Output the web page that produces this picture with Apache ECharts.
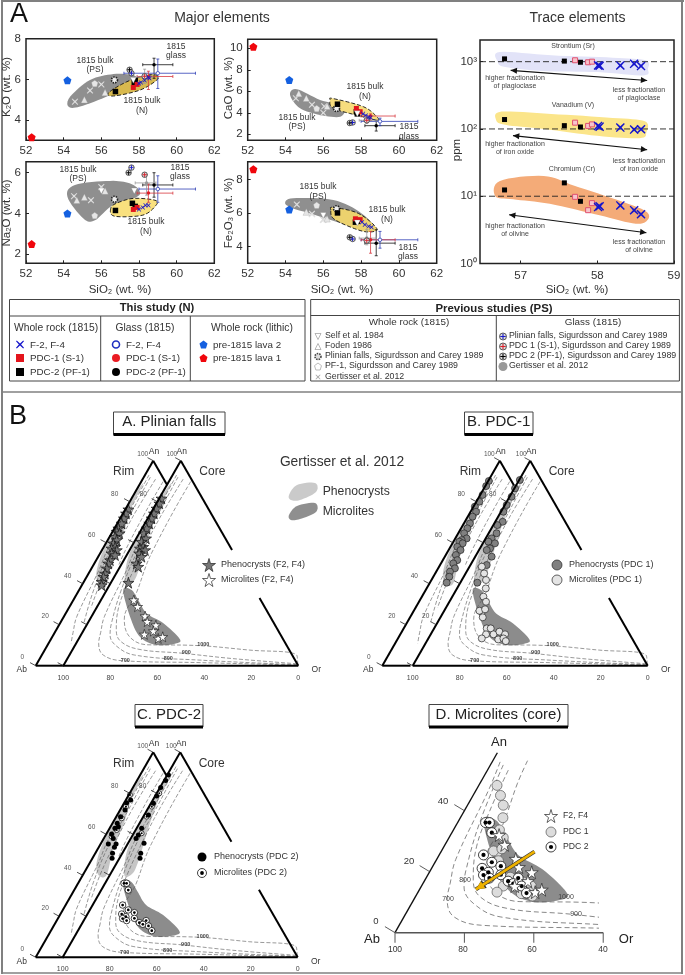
<!DOCTYPE html>
<html>
<head>
<meta charset="utf-8">
<style>
html, body { margin: 0; padding: 0; background: #fff; }
#chart { width: 685px; height: 975px; }
</style>
</head>
<body>
<div id="chart"></div>
<script src="https://cdn.jsdelivr.net/npm/echarts@6/dist/echarts.min.js"></script>
<script>
// major elements, [SiO2, oxide]
const k2oLava2 = [[54.2, 5.95]];
const k2oLava1 = [[52.3, 3.15]];
const k2oF24 = [[58.0, 5.8], [58.1, 5.85], [58.3, 5.95], [58.5, 6.1], [58.55, 6.05]];
const k2oPdc1 = [[57.7, 5.6], [57.9, 5.75]];
const k2oPdc2 = [[56.75, 5.4], [57.8, 5.95], [57.75, 5.85]];
const k2oCross = [[54.6, 4.9], [55.4, 5.45], [56.0, 5.75]];
const k2oTri = [[55.1, 5.0], [56.2, 5.35]];
const k2oPenta = [[55.65, 5.8]];
const k2oGear = [[56.7, 5.97]];
const k2oDown = [[57.7, 5.95]];
const k2oPlusBlue = [[57.6, 6.3]];
const k2oPlusRed = [[58.3, 6.15]];
const k2oPlusBlack = [[57.5, 6.47]];
const k2oGlass = [[58.8, 6.72, 58.2, 59.8, 6.05, 7.04], [59, 6.3, 57.2, 61, 5.55, 7], [58.5, 6.14, 57.9, 59.8, 5.5, 6.4], [58.3, 6.1, 57.9, 58.7, 5.8, 6.5]];
const k2oGray = [[54.25, 4.66], [54.35, 5.15], [55.4, 5.97], [56.65, 6.26], [57.7, 6.2], [57.7, 5.97], [56.45, 5.23], [54.87, 4.66]];
const k2oYellow = [[56.4, 5.35], [56.65, 5.18], [58.05, 5.47], [58.95, 5.97], [58.95, 6.2], [58.4, 6.2], [57.35, 5.88]];

const caoLava2 = [[54.2, 7.05]];
const caoLava1 = [[52.3, 10.15]];
const caoF24 = [[58.1, 3.9], [58.25, 3.75], [58.4, 3.6], [58.5, 3.55]];
const caoPdc1 = [[57.75, 4.4], [57.95, 4.1]];
const caoPdc2 = [[56.75, 4.8], [57.75, 4.1], [57.8, 3.9]];
const caoCross = [[54.55, 5.35], [55.4, 4.75], [56.05, 4.6], [56.0, 4.0]];
const caoTri = [[54.7, 5.8], [55.1, 5.35], [56.2, 4.6]];
const caoPenta = [[55.65, 4.4]];
const caoGear = [[56.7, 4.4]];
const caoDown = [[57.8, 3.9]];
const caoPlusBlue = [[57.55, 3.1]];
const caoPlusRed = [[58.3, 3.3]];
const caoPlusBlack = [[57.4, 3.05]];
const caoGlass = [[58.8, 2.8, 58.2, 59.8, 2.3, 3.3], [59, 3.2, 58, 61, 2.8, 3.5], [58.5, 3.7, 58, 59.8, 3.3, 3.9], [58.3, 3.3, 57.9, 58.8, 3, 3.6]];
const caoGray = [[54.24, 5.66], [54.6, 6.2], [55.83, 5.2], [57.06, 4.57], [56.9, 3.64], [55.83, 3.8], [54.77, 4.42]];
const caoYellow = [[56.36, 5.2], [56.53, 5.32], [58.12, 4.57], [58.83, 3.64], [58.83, 3.33], [57.94, 3.7], [56.53, 4.42]];

const na2oLava2 = [[54.2, 4.0]];
const na2oLava1 = [[52.3, 2.5]];
const na2oF24 = [[58.0, 4.2], [58.2, 4.3], [58.35, 4.4], [58.5, 4.4]];
const na2oPdc1 = [[57.7, 4.2], [57.9, 4.3]];
const na2oPdc2 = [[56.75, 4.15], [57.65, 4.5], [57.8, 4.35]];
const na2oCross = [[54.55, 4.85], [55.45, 4.65], [56.0, 5.3]];
const na2oTri = [[54.7, 4.65], [55.1, 4.8], [56.2, 5.1]];
const na2oPenta = [[55.65, 3.9]];
const na2oGear = [[56.7, 4.7]];
const na2oDown = [[56.0, 5.1], [57.75, 5.1]];
const na2oPlusBlue = [[57.6, 6.25]];
const na2oPlusRed = [[58.3, 5.9]];
const na2oPlusBlack = [[57.45, 6.0]];
const na2oGlass = [[58.8, 5.4, 58.2, 59.8, 4.8, 6], [59, 5.2, 58, 61, 4.55, 5.85], [58.5, 5.0, 57.9, 59.8, 4.55, 5.45], [58.4, 5.5, 57.8, 58.9, 4.9, 5.9]];
const na2oGray = [[54.2, 4.82], [54.6, 5.4], [56.46, 5.6], [57.5, 5.48], [58, 5.15], [57.9, 4.82], [56.6, 4.4], [55.66, 3.67], [55.05, 3.75]];
const na2oYellow = [[56.5, 4.25], [56.7, 3.87], [58.2, 3.92], [58.9, 4.4], [58.85, 4.65], [57.7, 4.74], [56.8, 4.5]];

const feLava2 = [[54.2, 6.2]];
const feLava1 = [[52.3, 8.6]];
const feF24 = [[58.05, 5.45], [58.2, 5.3], [58.4, 5.2], [58.55, 5.15]];
const fePdc1 = [[57.7, 5.65], [57.95, 5.6]];
const fePdc2 = [[56.75, 6.0], [57.7, 5.45], [57.8, 5.5]];
const feCross = [[54.6, 6.5], [55.4, 5.95], [56.0, 5.6]];
const feTri = [[55.1, 6.05], [56.2, 5.65]];
const fePenta = [[55.65, 6.45]];
const feGear = [[56.7, 6.25]];
const feDown = [[56.0, 5.85], [57.8, 5.4]];
const fePlusBlue = [[57.55, 4.45]];
const fePlusRed = [[58.3, 4.35]];
const fePlusBlack = [[57.4, 4.55]];
const feGlass = [[58.8, 4.2, 58.2, 59.8, 3.45, 5], [59, 4.4, 58, 61, 3.9, 4.9], [58.5, 4.4, 58, 59.8, 3.6, 4.9], [58.3, 4.5, 57.9, 58.8, 4.1, 5]];
const feGray = [[53.98, 6.57], [54.4, 6.87], [56.53, 6.77], [58.03, 5.97], [58.74, 4.97], [57.6, 5.17], [55.3, 5.97], [54.4, 6.27]];
const feYellow = [[56.4, 6.17], [56.53, 6.33], [57.86, 5.97], [58.83, 5.07], [58.3, 4.87], [57.41, 5.17], [56.53, 5.67]];

// trace elements, [SiO2, ppm]
const srPdc2 = [[56.79, 1100], [57.57, 1020], [57.78, 980]];
const srPdc1 = [[57.71, 1050], [57.88, 980], [57.93, 1000]];
const srF24 = [[58.01, 880], [58.03, 870], [58.3, 880], [58.48, 930], [58.57, 860]];
const srBlob = [[56.7, 1000], [56.73, 1395], [57.4, 1243], [58.2, 1147], [58.63, 1047], [58.66, 786], [58.6, 625], [58.0, 700], [57.3, 726], [56.8, 833]];
const vPdc2 = [[56.79, 138], [57.57, 112], [57.78, 107]];
const vPdc1 = [[57.71, 124], [57.88, 111], [57.93, 117]];
const vF24 = [[58.01, 111], [58.03, 108], [58.3, 105], [58.48, 98], [58.57, 99]];
const vBlob = [[56.68, 136], [56.75, 181], [57.4, 167], [58.2, 146], [58.62, 130], [58.64, 89], [58.55, 73], [58.0, 79], [57.3, 100], [56.8, 115]];
const crPdc2 = [[56.79, 12.4], [57.57, 15.8], [57.78, 8.4]];
const crPdc1 = [[57.71, 9.8], [57.88, 6.2], [57.93, 7.9]];
const crF24 = [[58.01, 6.9], [58.03, 7.1], [58.3, 7.3], [58.48, 6.2], [58.57, 5.4]];
const crBlob = [[56.67, 10], [56.73, 16.9], [57.3, 20], [57.7, 14.3], [58.3, 8.5], [58.63, 6], [58.66, 4.5], [58.5, 3.9], [58.03, 5.2], [57.38, 7.7], [56.9, 9]];
const traceRefs = [1000, 100, 10];
const traceArrows = [[56.87, 743, 58.65, 526], [56.9, 79.6, 58.65, 49], [56.85, 5.3, 58.64, 2.87]];

// feldspar ternary, [Or, An]
const curve700 = [[1.7, 93], [1.9, 85.7], [2.2, 69.4], [2.3, 56], [3.6, 46.7], [5.5, 24], [7.8, 16.2], [9.6, 10.9], [14.4, 5.2], [24.3, 2.4], [57.4, 1.5], [99.5, 0.3]];
const curve800 = [[2.8, 92], [3, 85], [3.5, 71], [3.7, 55], [6.3, 36.4], [10.2, 20.5], [12.4, 15], [17.8, 9.6], [27.7, 5.2], [57.2, 2.7], [99.5, 0.5]];
const curve900 = [[5.5, 91], [5, 72], [6, 53.3], [7.3, 40.2], [9.4, 28.2], [13.9, 17.3], [18.6, 11.8], [28.2, 8], [47.4, 6.1], [70, 3.5], [99.5, 0.9]];
const curve1000 = [[9.3, 89.8], [9.25, 75], [10, 56.4], [10.8, 49], [13.3, 35.8], [14.6, 22.7], [21.3, 14], [30.9, 10.2], [48, 10], [75.6, 7.6], [96.7, 5.2], [99.5, 0.5]];
const microliteField = [[7.05, 36.9], [10.65, 36.9], [15.9, 32], [22.75, 25.5], [32.25, 20.7], [42.75, 13.3], [42.75, 10.9], [34.65, 10.1], [25.55, 14.1], [16.45, 23.9]];
const rimField = [[1.4, 88.9], [2.1, 77.6], [5, 64.6], [6.4, 53.2], [10.1, 40.2], [6.6, 40.2], [2.65, 46.7], [0.35, 59.7], [0.4, 82.4]];
const coreField = [[1.65, 88.9], [2.3, 77.6], [4.6, 64.6], [8.45, 48.3], [9.3, 41], [6.1, 40.2], [1.1, 53.2], [0.2, 67.8], [0.6, 84]];

const plinianRim = [[1.3, 76.3], [1.3, 74.3], [1.6, 71.9], [1.9, 69.4], [1.7, 67], [1.8, 65.4], [3.3, 64.6], [2.3, 62.9], [3.8, 61.3], [3.2, 59.7], [4.8, 58], [3.7, 57.2], [6.3, 56.4], [4.9, 54.8], [6.8, 54], [5.9, 51.5], [6, 49.9], [6.5, 47.5], [7, 45], [7.1, 43.4], [7.6, 41], [8.4, 39.3]];
const plinianCore = [[1, 81.6], [1.3, 79.2], [1.35, 76.7], [1.45, 74.3], [1.65, 71.9], [1.9, 69.4], [2, 67], [2, 64.6], [4.15, 62.1], [3, 60.5], [5, 58], [4, 57.2], [6.6, 56.4], [4.9, 54.8], [6.7, 53.2], [6.25, 49.9], [7.75, 48.3], [7.45, 40.5]];
const plinianMicro = [[14, 32], [17.2, 28.8], [22.7, 24.2], [24.95, 21.5], [29.5, 19.8], [29.85, 16.9], [26.85, 15.3], [33.75, 13.3], [35.25, 14.1]];

const pdc1Rim = [[0.3, 90.1], [0.4, 87.6], [1.05, 83.3], [1.3, 80], [0.6, 77.6], [2.35, 75.1], [2.05, 72.7], [2.6, 69.4], [2.7, 67], [2.5, 64.6], [4.85, 62.1], [3.15, 61.3], [2.55, 60.5], [4.35, 59.7], [2.9, 58], [5.1, 56.4], [4.3, 54], [6.15, 51.5], [5.25, 49.9], [7.15, 47.5], [5.85, 45.9], [6.8, 43.4], [7.15, 40.5]];
const pdc1Core = [[0.3, 90.6], [0.3, 86.5], [0.9, 82.4], [0.8, 78.4], [1.05, 75.1], [3.2, 70.2], [1.7, 68.6], [3.4, 64.6], [2.55, 62.1], [1.95, 60.5], [5.15, 59.7], [4.3, 57.2], [3.3, 56.4], [7, 53.2], [6.95, 49.1], [7.25, 40.5]];
const pdc1Micro = [[5.25, 48.3], [7.9, 45], [10.3, 41.8], [12.25, 37.7], [13.25, 33.7], [15.6, 31.2], [16.25, 26.3], [15, 26.8], [18, 23.6], [17.05, 27.5], [22.4, 18.2], [24.1, 18.2], [23.55, 15.3], [22.75, 13.3], [26.75, 15.3], [28.6, 16.6], [31.65, 15.3], [30, 12.8], [31.95, 13.3], [33.6, 12]];

const pdc2Rim = [[2.05, 76.7], [1, 75.4], [2.05, 71.9], [1.8, 68.6], [2, 65.4], [2.25, 62.9], [3.35, 63.7], [2.2, 60.2], [4, 58], [3.25, 55.3], [6.55, 55.3], [6.65, 53.7], [7.35, 50.7], [8.35, 48.3]];
const pdc2Core = [[0.55, 88.9], [0.7, 86.2], [0.3, 82.8], [0.65, 78.7], [1.05, 75.1], [1.8, 69.4], [2.15, 62.9], [2.35, 59.7], [2.2, 58], [6.8, 55.6], [7.85, 50.7], [8.75, 48.3]];
const pdc2Micro = [[8.05, 36.1], [9.15, 36.1], [11.5, 32.8], [12.75, 25.5], [16.35, 23.1], [19.6, 21.8], [14.55, 21.1], [17, 19.8], [21, 19], [16.05, 18.9], [18.25, 17.9], [24.15, 16.9], [26.55, 17.9], [26.05, 16.1], [28.85, 15.3], [31.4, 13]];
const pdc2RimMicro = [[0.5, 79.2], [1.65, 73.5], [2.7, 67.8], [3.45, 62.1], [2.85, 58.9]];
const pdc2CoreMicro = [[1.1, 80], [1.15, 73.5], [1.4, 68.6], [3.35, 60.5]];
const trendArrow = [[26.9, 26.6], [16.2, 14.2]];

const anTicks = [0, 20, 40, 60, 80, 100];
const baseTicks = [100, 80, 60, 40, 20, 0];
const microTicksD = [100, 80, 60, 40];

const FONT = 'Liberation Sans';
const INK = '#333';
const STAR = 'path://M50 0L61 35 98 35 68 57 79 91 50 70 21 91 32 57 2 35 39 35Z';
const PENTA = 'path://M50 0L100 38 81 100 19 100 0 38Z';
const CROSS = 'path://M1 0L5 3.6 9 0 10 1 6.4 5 10 9 9 10 5 6.4 1 10 0 9 3.6 5 0 1Z';
const PLUS = 'path://M4 0H6V4H10V6H6V10H4V6H0V4H4Z';
const DOWN = 'path://M0 0H100L50 87Z';

const grids = [], xAxes = [], yAxes = [], series = [], texts = [];

function scatter(g, data, symbol, size, color, border, bw, z, extra) {
  series.push({
    type: 'scatter', xAxisIndex: g, yAxisIndex: g, data, symbol, symbolSize: size, silent: true, clip: false, z,
    itemStyle: Object.assign({ color, borderColor: border || color, borderWidth: bw || 0, opacity: 1 }, extra || {})
  });
}

// closed catmull-rom outline through the picked points
function splineLoop(p) {
  const out = [], n = p.length;
  for (let i = 0; i < n; i++) {
    const a = p[(i + n - 1) % n], b = p[i], c = p[(i + 1) % n], d = p[(i + 2) % n];
    for (let k = 0; k < 8; k++) {
      const t = k / 8, t2 = t * t, t3 = t2 * t;
      out.push([0, 1].map(j => 0.5 * (2 * b[j] + (c[j] - a[j]) * t + (2 * a[j] - 5 * b[j] + 4 * c[j] - d[j]) * t2 + (3 * b[j] - a[j] - 3 * c[j] + d[j]) * t3)));
    }
  }
  return out;
}

function blob(g, pts, fill, stroke, z) {
  series.push({
    type: 'custom', xAxisIndex: g, yAxisIndex: g, data: pts, silent: true, clip: false, z,
    renderItem: (p, api) => p.dataIndex ? null : {
      type: 'polygon',
      shape: { points: splineLoop(pts.map(q => api.coord(q))) },
      style: { fill, stroke: stroke || 'none', lineWidth: 0.9, lineDash: stroke ? [4, 2] : null }
    }
  });
}

// each datum is x1, y1, x2, y2
function segments(g, segs, color, width, z) {
  series.push({
    type: 'custom', xAxisIndex: g, yAxisIndex: g, data: segs, silent: true, clip: false, z,
    renderItem: (p, api) => {
      const a = api.coord([api.value(0), api.value(1)]);
      const b = api.coord([api.value(2), api.value(3)]);
      return { type: 'line', shape: { x1: a[0], y1: a[1], x2: b[0], y2: b[1] }, style: { stroke: color, lineWidth: width } };
    }
  });
}

// line with a filled head at the end, and at the start too when both is set
function arrows(g, segs, color, width, head, both, z) {
  series.push({
    type: 'custom', xAxisIndex: g, yAxisIndex: g, data: segs, silent: true, clip: false, z,
    renderItem: (p, api) => {
      const a = api.coord([api.value(0), api.value(1)]);
      const b = api.coord([api.value(2), api.value(3)]);
      const tip = (from, to) => {
        const ang = Math.atan2(to[1] - from[1], to[0] - from[0]);
        const pt = s => [to[0] - head * Math.cos(ang + s * 0.45), to[1] - head * Math.sin(ang + s * 0.45)];
        return { type: 'polygon', shape: { points: [to, pt(1), pt(-1)] }, style: { fill: color } };
      };
      const children = [{ type: 'line', shape: { x1: a[0], y1: a[1], x2: b[0], y2: b[1] }, style: { stroke: color, lineWidth: width } }, tip(a, b)];
      if (both) children.push(tip(b, a));
      return { type: 'group', children };
    }
  });
}

function errorBars(g, data, colors) {
  series.push({
    type: 'custom', xAxisIndex: g, yAxisIndex: g, data, silent: true, clip: false, z: 6,
    renderItem: (p, api) => {
      const v = [0, 1, 2, 3, 4, 5].map(i => api.value(i));
      const l = api.coord([v[2], v[1]]), r = api.coord([v[3], v[1]]);
      const t = api.coord([v[0], v[5]]), b = api.coord([v[0], v[4]]);
      const style = { stroke: colors[p.dataIndex], lineWidth: 0.8 };
      const seg = (x1, y1, x2, y2) => ({ type: 'line', shape: { x1, y1, x2, y2 }, style });
      return {
        type: 'group', children: [
          seg(l[0], l[1], r[0], r[1]), seg(t[0], t[1], b[0], b[1]),
          seg(l[0], l[1] - 1.5, l[0], l[1] + 1.5), seg(r[0], r[1] - 1.5, r[0], r[1] + 1.5),
          seg(t[0] - 1.5, t[1], t[0] + 1.5, t[1]), seg(b[0] - 1.5, b[1], b[0] + 1.5, b[1])
        ]
      };
    }
  });
}

function txt(x, y, text, size, opts) {
  opts = opts || {};
  texts.push({
    type: 'text', x, y, rotation: opts.rotation || 0, z: 50, silent: true,
    style: {
      text, fontFamily: FONT, fontSize: size, fill: opts.color || INK, fontWeight: opts.weight || 'normal',
      textAlign: opts.align || 'center', textVerticalAlign: 'middle'
    }
  });
}

function frameRect(x, y, w, h, stroke, lw, fill) {
  texts.push({ type: 'rect', z: 40, silent: true, shape: { x, y, width: w, height: h }, style: { fill: fill || 'none', stroke: stroke || 'none', lineWidth: lw || 0 } });
}

function rule(x1, y1, x2, y2, stroke, lw) {
  texts.push({ type: 'line', z: 41, silent: true, shape: { x1, y1, x2, y2 }, style: { stroke, lineWidth: lw } });
}

// ---- major element scatter panels
function majorPanel(p) {
  const g = grids.length;
  grids.push({ left: p.left, top: p.top, width: p.width, height: p.height, show: true, borderColor: '#222', borderWidth: 1.5, backgroundColor: '#fff' });
  xAxes.push({
    gridIndex: g, type: 'value', min: 52, max: 62, interval: 2,
    axisLine: { show: false }, splitLine: { show: false },
    axisTick: { inside: true, length: 3, lineStyle: { color: '#222' } },
    axisLabel: { fontFamily: FONT, fontSize: 11.5, color: INK, margin: 5 }
  });
  yAxes.push({
    gridIndex: g, type: 'value', min: p.yMin, max: p.yMax,
    axisLine: { show: false }, splitLine: { show: false },
    axisTick: { inside: true, length: 3, lineStyle: { color: '#222' }, customValues: p.yTicks },
    axisLabel: { fontFamily: FONT, fontSize: 11.5, color: INK, margin: 5, customValues: p.yTicks }
  });
  blob(g, p.gray, '#8f8f8f', null, 2);
  blob(g, p.yellow, p.yellowFill, '#111', 4);
  scatter(g, p.cross, CROSS, 6.5, '#e6e6e6', '#999', 0.2, 5);
  scatter(g, p.tri, 'triangle', 6.5, '#e6e6e6', '#999', 0.3, 5);
  scatter(g, p.penta, PENTA, 6.5, '#e6e6e6', '#999', 0.3, 5);
  scatter(g, p.gear, 'circle', 6, '#eee', '#222', 1.6, 8, { borderType: [1.5, 1] });
  errorBars(g, p.glass, ['#111', '#2f3fb5', '#d8383f', '#999']);
  scatter(g, [p.glass[0].slice(0, 2)], 'circle', 3.5, '#000', null, 0, 7);
  scatter(g, [p.glass[1].slice(0, 2)], 'circle', 3.5, '#fff', '#2f3fb5', 0.8, 7);
  scatter(g, [p.glass[2].slice(0, 2)], 'circle', 3.5, '#e01f26', null, 0, 7);
  scatter(g, [p.glass[3].slice(0, 2)], 'circle', 3.5, '#999', null, 0, 7);
  [[p.plusBlue, '#1a1ac8'], [p.plusRed, '#d8202a'], [p.plusBlack, '#000']].forEach(o => {
    scatter(g, o[0], 'circle', 5.5, '#ddd', '#333', 0.8, 8);
    scatter(g, o[0], PLUS, 4.5, o[1], null, 0, 9);
  });
  scatter(g, p.pdc2, 'rect', 5.5, '#000', null, 0, 9);
  scatter(g, p.pdc1, 'rect', 5, '#e3141c', null, 0, 9);
  scatter(g, p.down, DOWN, 6, '#fff', '#777', 0.3, 10);
  scatter(g, p.f24, CROSS, 4.5, '#1a1ac8', null, 0, 10);
  scatter(g, p.lava2, PENTA, 8, '#1460e0', null, 0, 11);
  scatter(g, p.lava1, PENTA, 8, '#f0060c', null, 0, 11);
}

majorPanel({
  left: 26, top: 38.7, width: 188.3, height: 101.6, yMin: 3, yMax: 8, yTicks: [4, 6, 8], yellowFill: '#d8b94e',
  gray: k2oGray, yellow: k2oYellow, cross: k2oCross, tri: k2oTri, penta: k2oPenta, gear: k2oGear, down: k2oDown,
  glass: k2oGlass, plusBlue: k2oPlusBlue, plusRed: k2oPlusRed, plusBlack: k2oPlusBlack,
  pdc2: k2oPdc2, pdc1: k2oPdc1, f24: k2oF24, lava2: k2oLava2, lava1: k2oLava1
});
majorPanel({
  left: 247.7, top: 39.3, width: 189, height: 101, yMin: 1.44, yMax: 10.84, yTicks: [2, 4, 6, 8, 10], yellowFill: '#f7dd7e',
  gray: caoGray, yellow: caoYellow, cross: caoCross, tri: caoTri, penta: caoPenta, gear: caoGear, down: caoDown,
  glass: caoGlass, plusBlue: caoPlusBlue, plusRed: caoPlusRed, plusBlack: caoPlusBlack,
  pdc2: caoPdc2, pdc1: caoPdc1, f24: caoF24, lava2: caoLava2, lava1: caoLava1
});
majorPanel({
  left: 26, top: 161.7, width: 188.3, height: 101.6, yMin: 1.56, yMax: 6.54, yTicks: [2, 4, 6], yellowFill: '#f9e07e',
  gray: na2oGray, yellow: na2oYellow, cross: na2oCross, tri: na2oTri, penta: na2oPenta, gear: na2oGear, down: na2oDown,
  glass: na2oGlass, plusBlue: na2oPlusBlue, plusRed: na2oPlusRed, plusBlack: na2oPlusBlack,
  pdc2: na2oPdc2, pdc1: na2oPdc1, f24: na2oF24, lava2: na2oLava2, lava1: na2oLava1
});
majorPanel({
  left: 247.7, top: 161.7, width: 189, height: 101.6, yMin: 3, yMax: 9.05, yTicks: [4, 6, 8], yellowFill: '#ecd26e',
  gray: feGray, yellow: feYellow, cross: feCross, tri: feTri, penta: fePenta, gear: feGear, down: feDown,
  glass: feGlass, plusBlue: fePlusBlue, plusRed: fePlusRed, plusBlack: fePlusBlack,
  pdc2: fePdc2, pdc1: fePdc1, f24: feF24, lava2: feLava2, lava1: feLava1
});

// ---- trace element panel
const traceGrid = grids.length;
const logLabels = { 1: '10⁰', 10: '10¹', 100: '10²', 1000: '10³' };
grids.push({ left: 480, top: 40, width: 194, height: 223.5, show: true, borderColor: '#222', borderWidth: 1.5, backgroundColor: '#fff' });
xAxes.push({
  gridIndex: traceGrid, type: 'value', min: 56.47, max: 59,
  axisLine: { show: false }, splitLine: { show: false },
  axisTick: { inside: true, length: 3, customValues: [57, 58, 59], lineStyle: { color: '#222' } },
  axisLabel: { fontFamily: FONT, fontSize: 11.5, color: INK, margin: 6, customValues: [57, 58, 59] }
});
yAxes.push({
  gridIndex: traceGrid, type: 'log', logBase: 10, min: 1, max: 2100,
  axisLine: { show: false }, splitLine: { show: false }, minorTick: { show: false },
  axisTick: { inside: true, length: 3, customValues: [1, 10, 100, 1000], lineStyle: { color: '#222' } },
  axisLabel: { fontFamily: FONT, fontSize: 11.5, color: INK, margin: 3, customValues: [1, 10, 100, 1000], formatter: v => logLabels[Math.round(v)] }
});
blob(traceGrid, srBlob, '#e2e3f8', null, 2);
blob(traceGrid, vBlob, '#fbe58a', null, 2);
blob(traceGrid, crBlob, '#f4ab78', null, 2);
traceRefs.forEach(v => {
  series.push({
    type: 'line', xAxisIndex: traceGrid, yAxisIndex: traceGrid, data: [[56.47, v], [59, v]], symbol: 'none', silent: true, z: 3,
    lineStyle: { color: '#222', width: 0.9, type: [6, 3] }
  });
});
arrows(traceGrid, traceArrows, '#111', 1.1, 7, true, 4);
[srPdc2, vPdc2, crPdc2].forEach(d => scatter(traceGrid, d, 'rect', 5, '#000', null, 0, 6));
[srPdc1, vPdc1, crPdc1].forEach(d => scatter(traceGrid, d, 'rect', 5, '#f7c4cc', '#e0506e', 1, 6));
[srF24, vF24, crF24].forEach(d => scatter(traceGrid, d, CROSS, 9, '#1616cc', null, 0, 7));

// ---- ternary panels
const tern = pts => pts.map(p => [p[0] + p[1] / 2, p[1]]);

function ternaryGrid(left, baseY) {
  const g = grids.length;
  grids.push({ left, top: baseY - 205, width: 235, height: 205 });
  xAxes.push({ gridIndex: g, type: 'value', min: 0, max: 100, show: false });
  yAxes.push({ gridIndex: g, type: 'value', min: 0, max: 100, show: false });
  return g;
}

function addCurves(g, filter) {
  [curve700, curve800, curve900, curve1000].forEach(c => {
    const pts = filter ? c.filter(filter) : c;
    series.push({
      type: 'line', xAxisIndex: g, yAxisIndex: g, data: tern(pts), symbol: 'none', smooth: 0.4, silent: true, z: 3,
      lineStyle: { color: '#555', width: 0.6, type: [4, 2] }
    });
  });
}

function ternarySeg(a, b) {
  const p = tern([a, b]);
  return [p[0][0], p[0][1], p[1][0], p[1][1]];
}

function ternaryPanel(rimLeft, coreLeft, baseY, coreAnTicks) {
  const rim = ternaryGrid(rimLeft, baseY);
  const core = ternaryGrid(coreLeft, baseY);
  blob(rim, tern(rimField), '#c6c6c6', null, 2);
  blob(core, tern(coreField), '#c6c6c6', null, 2);
  blob(core, tern(microliteField), '#8c8c8c', null, 2);
  // rim curves stop where the core triangle starts
  addCurves(rim, p => p[0] < 11.5);
  addCurves(core);
  const tick = a => ternarySeg([0, a], [-3.15, a + 1.5]);
  segments(rim, [
    ternarySeg([0, 0], [0, 100]), ternarySeg([0, 100], [12, 88]), ternarySeg([0, 0], [12, 0])
  ], '#000', 2, 20);
  segments(rim, anTicks.map(tick), '#222', 0.8, 20);
  segments(core, [
    ternarySeg([0, 0], [0, 100]), ternarySeg([0, 100], [43.6, 56.4]), ternarySeg([67, 33], [100, 0]), ternarySeg([0, 0], [100, 0])
  ], '#000', 2, 20);
  segments(core, anTicks.map(tick), '#222', 0.8, 20);

  const d = coreLeft;
  const by = baseY;
  txt(rimLeft + 118.3, by - 214, 'An', 8.5);
  txt(rimLeft + 107, by - 211, '100', 6.5, { color: '#555' });
  txt(coreLeft + 118.5, by - 214, 'An', 8.5);
  txt(coreLeft + 108.5, by - 211, '100', 6.5, { color: '#555' });
  txt(rimLeft + 88, by - 194, 'Rim', 12);
  txt(coreLeft + 149, by - 194, 'Core', 12);
  txt(rimLeft - 14, by + 4, 'Ab', 8.5);
  txt(d + 253, by + 4, 'Or', 8.5);
  [[0, -13.5, -8], [20, 9.5, -49], [40, 32, -89], [60, 56, -130], [80, 79, -171]].forEach(o => {
    txt(rimLeft + o[1], by + o[2], String(o[0]), 6.5, { color: '#555' });
  });
  coreAnTicks.forEach(a => {
    const off = { 20: [13, -49], 80: [80, -171] }[a];
    txt(coreLeft + off[0], by + off[1], String(a), 6.5, { color: '#555' });
  });
  baseTicks.forEach(v => txt(d + (100 - v) * 2.35, by + 12, String(v), 7, { color: '#444' }));
  txt(d + 140, by - 21, '1000', 5.5, { weight: 'bold', color: '#444' });
  txt(d + 123, by - 13, '900', 5.5, { weight: 'bold', color: '#444' });
  txt(d + 105, by - 7, '800', 5.5, { weight: 'bold', color: '#444' });
  txt(d + 62, by - 5, '700', 5.5, { weight: 'bold', color: '#444' });
  return { rim, core };
}

const A = ternaryPanel(35.7, 63.3, 665.7, [80]);
scatter(A.rim, tern(plinianRim), STAR, 11, '#777', '#111', 0.7, 10);
scatter(A.core, tern(plinianCore), STAR, 11, '#777', '#111', 0.7, 10);
scatter(A.core, tern(plinianMicro), STAR, 10, '#fff', '#222', 0.7, 10);

const B = ternaryPanel(382.3, 412.7, 665.7, [20, 80]);
scatter(B.rim, tern(pdc1Rim), 'circle', 7, '#808080', '#222', 0.7, 10);
scatter(B.core, tern(pdc1Core), 'circle', 7, '#808080', '#222', 0.7, 10);
scatter(B.core, tern(pdc1Micro), 'circle', 7, '#e4e4e4', '#222', 0.7, 10);

function microDots(g, data, size) {
  scatter(g, data, 'circle', size, '#fff', '#111', 0.8, 10);
  scatter(g, data, 'circle', size * 0.42, '#000', null, 0, 11);
}

const C = ternaryPanel(35.7, 62.7, 957.3, [80]);
microDots(C.rim, tern(pdc2RimMicro), 5);
microDots(C.core, tern(pdc2CoreMicro), 5);
scatter(C.rim, tern(pdc2Rim), 'circle', 5, '#000', null, 0, 12);
scatter(C.core, tern(pdc2Core), 'circle', 5, '#000', null, 0, 12);
microDots(C.core, tern(pdc2Micro), 6.5);

// panel D is a zoom on the low-An corner of the same diagram
const D = grids.length;
grids.push({ left: 395, top: 932.7 - 183, width: 203, height: 183 });
xAxes.push({ gridIndex: D, type: 'value', min: 0, max: 58.5, show: false });
yAxes.push({ gridIndex: D, type: 'value', min: 0, max: 60, show: false });
blob(D, tern(microliteField), '#8c8c8c', null, 2);
[curve700, curve800, curve900, curve1000].forEach(c => {
  series.push({
    type: 'line', xAxisIndex: D, yAxisIndex: D, data: tern(c.filter(p => p[1] < 56.5)), symbol: 'none', smooth: 0.4, silent: true, z: 3,
    lineStyle: { color: '#555', width: 0.7, type: [5, 3] }
  });
});
segments(D, [ternarySeg([0, 0], [0, 59])], '#111', 1.4, 20);
segments(D, [[0, 0, 60, 0]], '#555', 1.4, 20);
segments(D, [0, 20, 40].map(a => ternarySeg([0, a], [-3.9, a + 2])), '#333', 0.8, 20);
segments(D, microTicksD.map(v => [100 - v, 0, 100 - v, -3.3]), '#555', 1, 20);
scatter(D, tern(pdc1Micro), 'circle', 10, '#dcdcdc', '#555', 0.7, 10);
microDots(D, tern(pdc2Micro), 10);
scatter(D, tern(plinianMicro), STAR, 13, '#fff', '#333', 0.8, 12);
arrows(D, [ternarySeg(trendArrow[0], trendArrow[1])], '#333', 4, 11, false, 13);
arrows(D, [ternarySeg(trendArrow[0], trendArrow[1])], '#edb100', 2.8, 9.5, false, 14);

// ---- overlay for legend keys, in page pixels
const key = grids.length;
grids.push({ left: 0, top: 0, width: 685, height: 975 });
xAxes.push({ gridIndex: key, type: 'value', min: 0, max: 685, show: false });
yAxes.push({ gridIndex: key, type: 'value', min: 0, max: 975, inverse: true, show: false });

// frame and headings
rule(1, 1, 684, 1, '#808080', 2);
rule(2, 1, 2, 974, '#808080', 2);
rule(682, 1, 682, 974, '#808080', 2);
rule(1, 392, 682, 392, '#808080', 1.5);
rule(1, 973, 682, 973, '#808080', 1.5);
txt(19, 15, 'A', 27, { color: '#111' });
txt(18, 417, 'B', 27, { color: '#111' });
txt(222, 18, 'Major elements', 14);
txt(577.5, 18, 'Trace elements', 14);

// axis titles
txt(7, 87, 'K₂O (wt. %)', 11.5, { rotation: Math.PI / 2 });
txt(7, 213, 'Na₂O (wt. %)', 11.5, { rotation: Math.PI / 2 });
txt(229, 88, 'CaO (wt. %)', 11.5, { rotation: Math.PI / 2 });
txt(229, 213, 'Fe₂O₃ (wt. %)', 11.5, { rotation: Math.PI / 2 });
txt(457, 150, 'ppm', 11.5, { rotation: Math.PI / 2 });
txt(120, 290, 'SiO₂ (wt. %)', 11.5);
txt(342, 290, 'SiO₂ (wt. %)', 11.5);
txt(577, 290, 'SiO₂ (wt. %)', 11.5);

// panel notes
[
  [95, 61, '1815 bulk'], [95, 70, '(PS)'], [176, 47, '1815'], [176, 56, 'glass'], [142, 101, '1815 bulk'], [142, 111, '(N)'],
  [365, 87, '1815 bulk'], [365, 97, '(N)'], [297, 118, '1815 bulk'], [297, 127, '(PS)'], [409, 127, '1815'], [409, 137, 'glass'],
  [78, 170, '1815 bulk'], [78, 179, '(PS)'], [180, 168, '1815'], [180, 177, 'glass'], [146, 222, '1815 bulk'], [146, 232, '(N)'],
  [318, 187, '1815 bulk'], [318, 197, '(PS)'], [387, 210, '1815 bulk'], [387, 220, '(N)'], [408, 248, '1815'], [408, 257, 'glass']
].forEach(t => txt(t[0], t[1], t[2], 8.5));
[
  [573, 46, 'Strontium (Sr)'], [515, 78, 'higher fractionation'], [515, 86, 'of plagioclase'], [639, 90, 'less fractionation'], [639, 98, 'of plagioclase'],
  [573, 105, 'Vanadium (V)'], [515, 144, 'higher fractionation'], [515, 152, 'of iron oxide'], [639, 161, 'less fractionation'], [639, 169, 'of iron oxide'],
  [572, 169, 'Chromium (Cr)'], [515, 226, 'higher fractionation'], [515, 234, 'of olivine'], [639, 242, 'less fractionation'], [639, 250, 'of olivine']
].forEach(t => txt(t[0], t[1], t[2], 7, { color: '#444' }));

// legend tables
frameRect(9.5, 299.5, 295.5, 81.5, '#444', 1);
rule(9.5, 316, 305, 316, '#444', 1);
rule(100.7, 316, 100.7, 381, '#444', 1);
rule(190.3, 316, 190.3, 381, '#444', 1);
txt(157, 308, 'This study (N)', 11.2, { weight: 'bold', color: '#222' });
txt(56, 328, 'Whole rock (1815)', 10.3);
txt(145, 328, 'Glass (1815)', 10.3);
txt(252, 328, 'Whole rock (lithic)', 10.3);
[[30, 345, 'F-2, F-4'], [30, 358, 'PDC-1 (S-1)'], [30, 372, 'PDC-2 (PF-1)'], [126, 345, 'F-2, F-4'], [126, 358, 'PDC-1 (S-1)'], [126, 372, 'PDC-2 (PF-1)'], [213, 345, 'pre-1815 lava 2'], [213, 358, 'pre-1815 lava 1']]
  .forEach(t => txt(t[0], t[1], t[2], 9.8, { align: 'left' }));
scatter(key, [[20, 344.5]], CROSS, 8, '#1616cc', null, 0, 30);
scatter(key, [[20, 358]], 'rect', 8, '#e3141c', null, 0, 30);
scatter(key, [[20, 372]], 'rect', 8, '#000', null, 0, 30);
scatter(key, [[116, 344.5]], 'circle', 7, '#fff', '#1f2fc0', 1.6, 30);
scatter(key, [[116, 358]], 'circle', 8, '#ea1b22', null, 0, 30);
scatter(key, [[116, 372]], 'circle', 8, '#000', null, 0, 30);
scatter(key, [[203.5, 344.5]], PENTA, 8, '#1460e0', null, 0, 30);
scatter(key, [[203.5, 358]], PENTA, 8, '#f0060c', null, 0, 30);

frameRect(310.7, 299.5, 368.7, 81.5, '#444', 1);
rule(310.7, 315.5, 679.4, 315.5, '#444', 1);
rule(496.3, 315.5, 496.3, 381, '#444', 1);
txt(494, 308.5, 'Previous studies (PS)', 11.4, { weight: 'bold', color: '#222' });
txt(409, 322, 'Whole rock (1815)', 9.9);
txt(593, 322, 'Glass (1815)', 9.9);
[[325, 336, 'Self et al. 1984'], [325, 346, 'Foden 1986'], [325, 356, 'Plinian falls, Sigurdsson and Carey 1989'], [325, 366, 'PF-1, Sigurdsson and Carey 1989'], [325, 377, 'Gertisser et al. 2012'],
  [509, 336, 'Plinian falls, Sigurdsson and Carey 1989'], [509, 346, 'PDC 1 (S-1), Sigurdsson and Carey 1989'], [509, 356, 'PDC 2 (PF-1), Sigurdsson and Carey 1989'], [509, 366, 'Gertisser et al. 2012']]
  .forEach(t => txt(t[0], t[1], t[2], 8.8, { align: 'left' }));
scatter(key, [[318, 336.5]], DOWN, 6, '#fff', '#888', 0.6, 30);
scatter(key, [[318, 346.5]], 'triangle', 6, '#fff', '#888', 0.6, 30);
scatter(key, [[318, 356.5]], 'circle', 6, '#ddd', '#444', 1.6, 30, { borderType: [1.5, 1] });
scatter(key, [[318, 366.5]], PENTA, 7, '#fff', '#aaa', 0.8, 30);
scatter(key, [[318, 377]], CROSS, 5, '#aaa', null, 0, 30);
[[336.5, '#1a1ac8'], [346.5, '#d8202a'], [356.5, '#000']].forEach(o => {
  scatter(key, [[503, o[0]]], 'circle', 7, '#ddd', '#333', 0.8, 30);
  scatter(key, [[503, o[0]]], PLUS, 5.5, o[1], null, 0, 31);
});
scatter(key, [[503, 366.5]], 'circle', 9, '#999', null, 0, 30);

// ternary panel titles
function panelTitle(x1, x2, y1, y2, text, size) {
  frameRect(x1, y1, x2 - x1, y2 - y1, '#444', 1, '#fff');
  rule(x1, y2, x2, y2, '#000', 3);
  txt((x1 + x2) / 2, (y1 + y2) / 2 - 1, text, size, { color: '#222' });
}
panelTitle(113.5, 225, 412, 434.5, 'A. Plinian falls', 15);
panelTitle(464.5, 533, 412, 434.5, 'B. PDC-1', 15);
panelTitle(135, 203, 704.5, 727, 'C. PDC-2', 15);
panelTitle(429, 568, 704.5, 727, 'D. Microlites (core)', 15);

// gertisser key
txt(342, 462, 'Gertisser et al. 2012', 13.8);
txt(322.7, 492, 'Phenocrysts', 12.2, { align: 'left' });
txt(322.7, 512, 'Microlites', 12.2, { align: 'left' });
blob(key, [[289, 495], [297, 485], [315, 483], [316, 492], [300, 500], [291, 500]], '#cacaca', null, 30);
blob(key, [[289, 515], [297, 506], [315, 503], [316, 512], [300, 519], [291, 520]], '#8f8f8f', null, 30);

// per-panel keys
scatter(key, [[209, 565]], STAR, 13, '#777', '#222', 0.7, 30);
scatter(key, [[209, 580]], STAR, 13, '#fff', '#222', 0.7, 30);
txt(221, 565, 'Phenocrysts (F2, F4)', 9, { align: 'left' });
txt(221, 580, 'Microlites (F2, F4)', 9, { align: 'left' });
scatter(key, [[557, 565]], 'circle', 10, '#808080', '#222', 0.7, 30);
scatter(key, [[557, 580]], 'circle', 10, '#e4e4e4', '#222', 0.7, 30);
txt(569, 565, 'Phenocrysts (PDC 1)', 9, { align: 'left' });
txt(569, 580, 'Microlites (PDC 1)', 9, { align: 'left' });
scatter(key, [[202, 857]], 'circle', 9, '#000', null, 0, 30);
microDots(key, [[202, 873]], 9);
txt(214, 857, 'Phenocrysts (PDC 2)', 9, { align: 'left' });
txt(214, 873, 'Microlites (PDC 2)', 9, { align: 'left' });
scatter(key, [[551, 816]], STAR, 13, '#fff', '#222', 0.7, 30);
scatter(key, [[551, 832]], 'circle', 10, '#dcdcdc', '#555', 0.7, 30);
microDots(key, [[551, 847]], 10);
txt(563, 816, 'F2, F4', 8.7, { align: 'left' });
txt(563, 832, 'PDC 1', 8.7, { align: 'left' });
txt(563, 847, 'PDC 2', 8.7, { align: 'left' });

// panel D labels
txt(499, 742, 'An', 13, { color: '#222' });
txt(372, 939, 'Ab', 13, { color: '#222' });
txt(626, 939, 'Or', 13, { color: '#222' });
txt(443, 801, '40', 9.5);
txt(409, 861, '20', 9.5);
txt(376, 921, '0', 9.5);
txt(395, 950, '100', 8.5);
txt(463, 950, '80', 8.5);
txt(532, 950, '60', 8.5);
txt(603, 950, '40', 8.5);
txt(448, 899, '700', 7, { color: '#444' });
txt(465, 880, '800', 7, { color: '#444' });
txt(576, 914, '900', 7, { color: '#444' });
txt(566, 897, '1000', 7, { color: '#444' });

const chart = echarts.init(document.getElementById('chart'), null, { renderer: 'canvas' });
chart.setOption({
  animation: false,
  backgroundColor: '#fff',
  textStyle: { fontFamily: FONT },
  grid: grids,
  xAxis: xAxes,
  yAxis: yAxes,
  series,
  graphic: { elements: texts }
});
</script>
</body>
</html>
